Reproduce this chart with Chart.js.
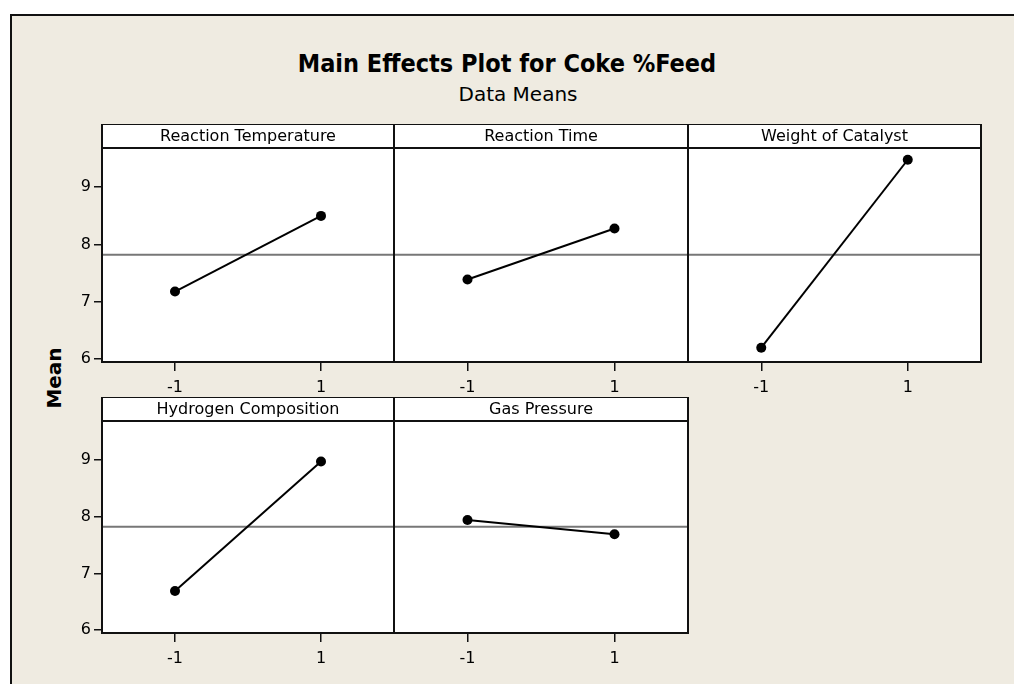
<!DOCTYPE html>
<html>
<head>
<meta charset="utf-8">
<script src="https://cdn.jsdelivr.net/npm/chart.js@4.4.1/dist/chart.umd.min.js"></script>
<style>
  body { margin: 0; width: 1014px; height: 684px; overflow: hidden; background: #fff; position: relative;
         font-family: "DejaVu Sans", sans-serif; }
  #frame { position: absolute; left: 10px; top: 14px; width: 1010px; height: 680px; background: #efebe1;
           border-left: 2px solid #111; border-top: 2px solid #111; }
  .txt { position: absolute; white-space: nowrap; color: #000; }
  #title { left: 0; width: 1014px; text-align: center; top: 49px; font-size: 25px; font-weight: bold; line-height: 30px;
           font-family: "DejaVu Sans Condensed", "DejaVu Sans", sans-serif; }
  #sub { left: 0; width: 1036px; text-align: center; top: 82px; font-size: 20px; line-height: 24px; }
  #ylab { left: 54px; top: 378px; font-size: 20px; font-weight: bold; transform: translate(-50%, -50%) rotate(-90deg); }
  canvas { position: absolute; }
</style>
</head>
<body>
<div id="frame"></div>
<div class="txt" id="title">Main Effects Plot for Coke %Feed</div>
<div class="txt" id="sub">Data Means</div>
<div class="txt" id="ylab">Mean</div>
<canvas id="c0"></canvas>
<canvas id="c1"></canvas>
<canvas id="c2"></canvas>
<canvas id="c3"></canvas>
<canvas id="c4"></canvas>
<script>
// data
const factors = ['Reaction Temperature', 'Reaction Time', 'Weight of Catalyst', 'Hydrogen Composition', 'Gas Pressure'];
const levels = [-1, 1];
const levelLabels = ['-1', '1'];
const reactionTemp = [7.18, 8.50];
const reactionTime = [7.39, 8.28];
const catalystWeight = [6.20, 9.48];
const hydrogenComp = [6.69, 8.97];
const gasPressure = [7.94, 7.69];
const grandMean = 7.82;
const yTicks = [6, 7, 8, 9];
const yMin = 5.95, yMax = 9.685;

const series = [reactionTemp, reactionTime, catalystWeight, hydrogenComp, gasPressure];

// panel boxes (plot area) in page pixels
const panels = [
  { left: 102, top: 148, w: 292, h: 214, yAxis: true },
  { left: 394, top: 148, w: 294, h: 214, yAxis: false },
  { left: 688, top: 148, w: 293, h: 214, yAxis: false },
  { left: 102, top: 421, w: 292, h: 212, yAxis: true },
  { left: 394, top: 421, w: 294, h: 212, yAxis: false }
];
const padL = 60, padR = 10, stripH = 24, padB = 45;

Chart.defaults.font.family = '"DejaVu Sans", sans-serif';
Chart.defaults.font.size = 16;
Chart.defaults.color = '#000';

const panelPlugin = {
  id: 'panelFrame',
  beforeDraw(chart) {
    const a = chart.chartArea, ctx = chart.ctx;
    ctx.save();
    ctx.fillStyle = '#fff';
    ctx.fillRect(a.left, a.top - stripH, a.right - a.left, a.bottom - a.top + stripH);
    ctx.restore();
  },
  beforeDatasetsDraw(chart) {
    // grand mean reference line
    const a = chart.chartArea, ctx = chart.ctx;
    const y = chart.scales.y.getPixelForValue(grandMean);
    ctx.save();
    ctx.strokeStyle = '#777';
    ctx.lineWidth = 2;
    ctx.beginPath();
    ctx.moveTo(a.left, y);
    ctx.lineTo(a.right, y);
    ctx.stroke();
    ctx.restore();
  },
  afterDraw(chart, args, opts) {
    const a = chart.chartArea, ctx = chart.ctx;
    ctx.save();
    ctx.strokeStyle = '#111';
    ctx.lineWidth = 2;
    ctx.strokeRect(a.left, a.top - stripH, a.right - a.left, a.bottom - a.top + stripH);
    ctx.beginPath();
    ctx.moveTo(a.left, a.top);
    ctx.lineTo(a.right, a.top);
    ctx.stroke();
    ctx.fillStyle = '#000';
    ctx.font = '16px "DejaVu Sans", sans-serif';
    ctx.textAlign = 'center';
    ctx.textBaseline = 'middle';
    ctx.fillText(opts.label, (a.left + a.right) / 2, a.top - stripH / 2 + 1);
    ctx.restore();
  }
};

panels.forEach(function (p, i) {
  const cv = document.getElementById('c' + i);
  const cw = p.w + padL + padR, ch = p.h + stripH + padB;
  cv.width = cw; cv.height = ch;
  cv.style.left = (p.left - padL) + 'px';
  cv.style.top = (p.top - stripH) + 'px';
  cv.style.width = cw + 'px';
  cv.style.height = ch + 'px';

  new Chart(cv.getContext('2d'), {
    type: 'line',
    data: {
      datasets: [{
        data: levels.map(function (x, k) { return { x: x, y: series[i][k] }; }),
        borderColor: '#000',
        borderWidth: 2,
        pointRadius: 5,
        pointBackgroundColor: '#000',
        pointBorderColor: '#000',
        pointBorderWidth: 0
      }]
    },
    options: {
      responsive: false,
      animation: false,
      devicePixelRatio: 1,
      layout: { padding: { left: p.yAxis ? 0 : padL, right: padR, top: stripH, bottom: 0 } },
      plugins: { legend: { display: false }, tooltip: { enabled: false }, panelFrame: { label: factors[i] } },
      scales: {
        x: {
          type: 'linear', min: -2, max: 2,
          afterBuildTicks: function (s) { s.ticks = levels.map(function (v) { return { value: v }; }); },
          afterFit: function (s) { s.height = padB; },
          ticks: { callback: function (v) { return levelLabels[levels.indexOf(v)]; }, padding: 7, maxRotation: 0 },
          grid: { drawOnChartArea: false, drawTicks: true, tickLength: 9, color: '#111', lineWidth: 1.5 },
          border: { display: false }
        },
        y: {
          display: p.yAxis,
          min: yMin, max: yMax,
          afterBuildTicks: function (s) { s.ticks = yTicks.map(function (v) { return { value: v }; }); },
          afterFit: function (s) { if (p.yAxis) s.width = padL; else s.width = 0; },
          ticks: { padding: 3 },
          grid: { drawOnChartArea: false, drawTicks: true, tickLength: 8, color: '#111', lineWidth: 1.5 },
          border: { display: false }
        }
      }
    },
    plugins: [panelPlugin]
  });
});
</script>
</body>
</html>
